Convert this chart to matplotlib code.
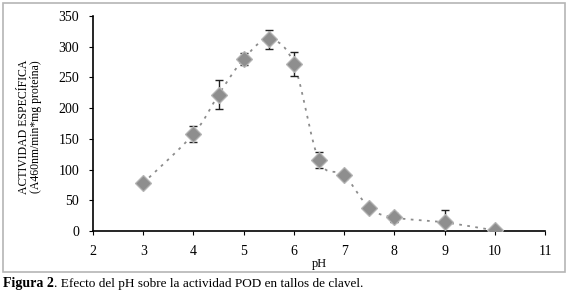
import numpy as np
import matplotlib.pyplot as plt
from matplotlib.patches import Rectangle

plt.rcParams['font.family'] = ['Liberation Serif', 'DejaVu Serif']

# data
ph = [3, 4, 4.5, 5, 5.5, 6, 6.5, 7, 7.5, 8, 9, 10]
actividad = [78, 158, 222, 280, 312, 272, 115, 91, 38, 22, 14, 1]
error = [3, 13, 24, 10, 15, 20, 13, 5, 5, 8, 21, 0]
xticks = list(range(2, 12))
yticks = list(range(0, 351, 50))


def smooth(x, y, n=20):
    # catmull-rom curve through the points (like excel's smoothed line)
    x = np.asarray(x, float)
    y = np.asarray(y, float)
    px = np.concatenate([[x[0]], x, [x[-1]]])
    py = np.concatenate([[y[0]], y, [y[-1]]])
    xs, ys = [], []
    t = np.linspace(0, 1, n)
    for i in range(1, len(px) - 2):
        for p, out in ((px, xs), (py, ys)):
            p0, p1, p2, p3 = p[i - 1], p[i], p[i + 1], p[i + 2]
            out.extend(0.5 * ((2 * p1) + (-p0 + p2) * t
                              + (2 * p0 - 5 * p1 + 4 * p2 - p3) * t ** 2
                              + (-p0 + 3 * p1 - 3 * p2 + p3) * t ** 3))
    return xs, ys


fig = plt.figure(figsize=(5.69, 2.93), dpi=100)
fig.patches.append(Rectangle((3 / 569, 1 - 272 / 293), 562 / 569, 269 / 293,
                             transform=fig.transFigure, fill=False,
                             edgecolor='#b5b5b5', linewidth=1.2))

ax = fig.add_axes([93 / 569, 1 - 231 / 293, 452 / 569, 215 / 293])

sx, sy = smooth(ph, actividad)
ax.plot(sx, sy, color='#8c8c8c', linestyle=(0, (1.5, 3)), linewidth=1.3, zorder=1)
ax.errorbar(ph, actividad, yerr=error, fmt='none', ecolor='#222222',
            elinewidth=1, capsize=3, capthick=1, zorder=2)
ax.plot(ph, actividad, linestyle='none', marker='D', markersize=8,
        markerfacecolor='#8e8e8e', markeredgecolor='#b4b4b4',
        markeredgewidth=0.9, zorder=3)

ax.set_xlim(2, 11)
ax.set_ylim(0, 350)
ax.set_xticks(xticks)
ax.set_yticks(yticks)
ax.tick_params(labelsize=10, length=3, width=0.8, direction='out', pad=7)
for s in ['top', 'right']:
    ax.spines[s].set_visible(False)
for s in ['left', 'bottom']:
    ax.spines[s].set_linewidth(1.2)

ax.set_xlabel('pH', fontsize=9, labelpad=0)
fig.text(30 / 569, 1 - 127 / 293, 'ACTIVIDAD ESPECÍFICA\n(A460nm/min*mg proteína)',
         rotation=90, ha='center', va='center', fontsize=8.5, linespacing=1.05)

# caption: bold "Figura 2" then the rest right after it
fig_lbl = fig.text(3 / 569, 1 - 283 / 293, 'Figura 2', fontsize=10,
                   fontweight='bold', ha='left', va='center')
ax.annotate('. Efecto del pH sobre la actividad POD en tallos de clavel.',
            xy=(1, 0), xycoords=fig_lbl, fontsize=9.5, ha='left', va='bottom',
            annotation_clip=False)

fig.savefig('out.png', dpi=100)
